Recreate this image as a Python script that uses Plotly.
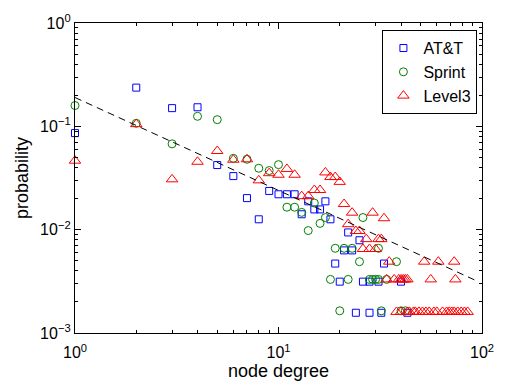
import plotly.graph_objects as go

# Node-degree distributions (degree, probability) for three ISP topologies
att_degree = [1, 2, 3, 4, 5, 6, 7, 8, 9, 10, 11, 12, 13, 14, 15, 16, 17, 18,
              19, 20, 21, 22, 23, 24, 25, 26, 28, 28, 31, 32, 33, 40, 43]
att_prob = [0.086, 0.237, 0.150, 0.153, 0.0422, 0.033, 0.0202, 0.0126, 0.0237,
            0.022, 0.022, 0.022, 0.0141, 0.0188, 0.0157, 0.0157, 0.0188, 0.0126,
            0.0047, 0.00314, 0.0063, 0.0094, 0.0063, 0.00157, 0.0079, 0.00314,
            0.00314, 0.00157, 0.00314, 0.00157, 0.0047, 0.00314, 0.00157]

sprint_degree = [1, 2, 3, 4, 5, 6, 7, 8, 9, 10, 11, 12, 13, 14, 15, 16, 17, 18,
                 19, 20, 21, 22, 23, 25, 26, 28, 29, 30, 31, 31, 32, 34, 38,
                 40, 42]
sprint_prob = [0.159, 0.107, 0.0677, 0.125, 0.116, 0.049, 0.048, 0.0393, 0.0373,
               0.0426, 0.0165, 0.0165, 0.0147, 0.0098, 0.0181, 0.0115, 0.0131,
               0.0033, 0.0066, 0.00164, 0.0066, 0.0033, 0.0066, 0.0049, 0.0131,
               0.0033, 0.0033, 0.0033, 0.0066, 0.0033, 0.00164, 0.0033, 0.0049,
               0.00164, 0.00164]

level3_degree = [1, 2, 3, 4, 5, 6, 7, 8, 9, 10, 11, 12, 13, 14, 15, 16, 17, 18,
                 19, 20, 21, 22, 23, 24, 25, 26, 27, 28, 29, 30, 31, 32, 33,
                 34, 35, 37, 39, 40, 41, 42, 43, 52, 56, 61, 73, 74,
                 38, 40, 43, 44, 46, 47, 49, 51, 53, 55, 58, 60, 64, 67, 69,
                 71, 73, 76, 79, 82, 85]
level3_prob = [0.0465, 0.105, 0.0307, 0.0454, 0.0577, 0.0475, 0.048, 0.030,
               0.0352, 0.034, 0.0387, 0.034, 0.0211, 0.0211, 0.0242, 0.0242,
               0.0358, 0.0323, 0.0323, 0.029, 0.0177, 0.0113, 0.0146, 0.0097,
               0.0097, 0.0065, 0.0081, 0.0065, 0.0146, 0.0065, 0.0081, 0.0081,
               0.0129, 0.0033, 0.0049, 0.0033, 0.0033, 0.0033, 0.0033, 0.0033,
               0.0033, 0.0049, 0.0033, 0.0049, 0.0049, 0.0033,
               0.0016, 0.0016, 0.0016, 0.0016, 0.0016, 0.0016, 0.0016, 0.0016,
               0.0016, 0.0016, 0.0016, 0.0016, 0.0016, 0.0016, 0.0016, 0.0016,
               0.0016, 0.0016, 0.0016, 0.0016, 0.0016]

# Power-law reference line endpoints
fit_degree = [1, 94]
fit_prob = [0.19, 0.0032]

x_ticks = [1, 10, 100]
x_ticktext = ["10<sup>0</sup>", "10<sup>1</sup>", "10<sup>2</sup>"]
y_ticks = [0.001, 0.01, 0.1, 1]
y_ticktext = ["10<sup>\u22123</sup>", "10<sup>\u22122</sup>",
              "10<sup>\u22121</sup>", "10<sup>0</sup>"]
x_minor = [m * d for d in (1, 10) for m in range(2, 10)]
y_minor = [m * d for d in (0.001, 0.01, 0.1) for m in range(2, 10)]

FONT = "Liberation Sans, Arial, Helvetica, sans-serif"

fig = go.Figure()
fig.add_trace(go.Scatter(
    x=att_degree, y=att_prob, mode="markers", name="AT&T", cliponaxis=False,
    marker=dict(symbol="square-open", size=7, color="#0000ff",
                line=dict(width=1, color="#0000ff"))))
fig.add_trace(go.Scatter(
    x=sprint_degree, y=sprint_prob, mode="markers", name="Sprint", cliponaxis=False,
    marker=dict(symbol="circle-open", size=8, color="#008000",
                line=dict(width=1, color="#008000"))))
fig.add_trace(go.Scatter(
    x=level3_degree, y=level3_prob, mode="markers", name="Level3", cliponaxis=False,
    marker=dict(symbol="triangle-up-open", size=10, color="#ff0000",
                line=dict(width=1, color="#ff0000"))))
fig.add_trace(go.Scatter(
    x=fit_degree, y=fit_prob, mode="lines", showlegend=False,
    line=dict(color="black", width=1, dash="7px,5px")))

axis_common = dict(
    type="log", showgrid=False, zeroline=False, showline=True,
    linecolor="black", linewidth=1.3, mirror="ticks", ticks="inside",
    ticklen=6, tickcolor="black", tickwidth=1, tickmode="array",
    tickfont=dict(family=FONT, size=16, color="black"),
)

fig.update_xaxes(
    range=[0, 2], tickvals=x_ticks, ticktext=x_ticktext, ticklabelstandoff=5,
    minor=dict(tickvals=x_minor, ticks="inside", ticklen=3,
               tickcolor="black", showgrid=False),
    title=dict(text="node degree", font=dict(family=FONT, size=18, color="black"),
               standoff=4),
    **axis_common)
fig.update_yaxes(
    range=[-3, 0], tickvals=y_ticks, ticktext=y_ticktext,
    minor=dict(tickvals=y_minor, ticks="inside", ticklen=3,
               tickcolor="black", showgrid=False),
    title=dict(text="probability", font=dict(family=FONT, size=18, color="black"),
               standoff=6),
    **axis_common)

fig.update_layout(
    width=506, height=390,
    margin=dict(l=75, r=20, t=17, b=55),
    paper_bgcolor="white", plot_bgcolor="white",
    font=dict(family=FONT, color="black"),
    legend=dict(x=0.988, y=0.978, xanchor="right", yanchor="top",
                bgcolor="white", bordercolor="black", borderwidth=1.3,
                font=dict(family=FONT, size=16, color="black"),
                tracegroupgap=0, itemwidth=30),
)

fig.write_html("out.html")
